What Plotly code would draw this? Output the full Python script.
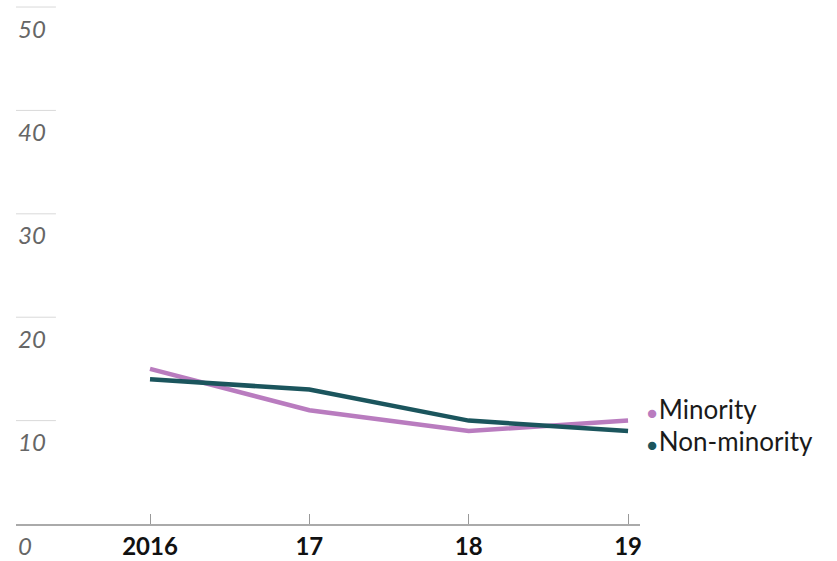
import plotly.graph_objects as go

years = [2016, 2017, 2018, 2019]
year_labels = ["2016", "17", "18", "19"]
minority = [15.0, 11.0, 9.0, 10.0]
non_minority = [14.0, 13.0, 10.0, 9.0]
y_ticks = [0, 10, 20, 30, 40, 50]

c_min = "#b97cbf"
c_non = "#1b555d"
font_family = "Lato, 'Source Sans Pro', 'Noto Sans', sans-serif"

fig = go.Figure()
fig.add_trace(go.Scatter(x=years, y=minority, mode="lines", name="Minority",
                         line=dict(color=c_min, width=4.5), cliponaxis=False))
fig.add_trace(go.Scatter(x=years, y=non_minority, mode="lines", name="Non-minority",
                         line=dict(color=c_non, width=4.5), cliponaxis=False))

shapes = []
annotations = []
for v in y_ticks:
    if v > 0:
        shapes.append(dict(type="line", xref="paper", yref="y", x0=0, x1=0.064,
                           y0=v, y1=v, line=dict(color="#d9d9d9", width=1)))
    annotations.append(dict(xref="paper", yref="y", x=0, y=v, yshift=-21,
                            xanchor="left", yanchor="middle", showarrow=False,
                            text=f"<i>{v}</i>",
                            font=dict(family=font_family, size=24, color="#666666")))

label_shift = {"Minority": 12, "Non-minority": -10}
for name, vals, col in [("Minority", minority, c_min), ("Non-minority", non_minority, c_non)]:
    annotations.append(dict(xref="x", yref="y", x=years[-1], y=vals[-1], xshift=17,
                            yshift=label_shift[name],
                            xanchor="left", yanchor="middle", showarrow=False,
                            text=f"<span style='color:{col};font-size:17px'>●</span>&#8202;{name}",
                            font=dict(family=font_family, size=26, color="#1a1a1a")))

fig.update_layout(
    width=837, height=561,
    margin=dict(l=16, r=197, t=0, b=37, autoexpand=False),
    paper_bgcolor="white", plot_bgcolor="white",
    showlegend=False,
    shapes=shapes, annotations=annotations,
    xaxis=dict(range=[2015.159, 2019.075], tickvals=years, ticktext=[f"<b>{t}</b>" for t in year_labels],
               ticks="inside", ticklen=10, tickcolor="#999", showgrid=False, zeroline=False,
               showline=True, linecolor="#aaa", linewidth=1.5, ticklabelstandoff=0,
               tickfont=dict(family=font_family, size=24, color="#111")),
    yaxis=dict(range=[0, 50.68], showgrid=False, zeroline=False, showticklabels=False, showline=False),
)

fig.write_html("out.html", config={"displayModeBar": False},
               post_script="document.body.style.margin='0';document.body.style.padding='0';document.body.style.overflow='hidden';")
